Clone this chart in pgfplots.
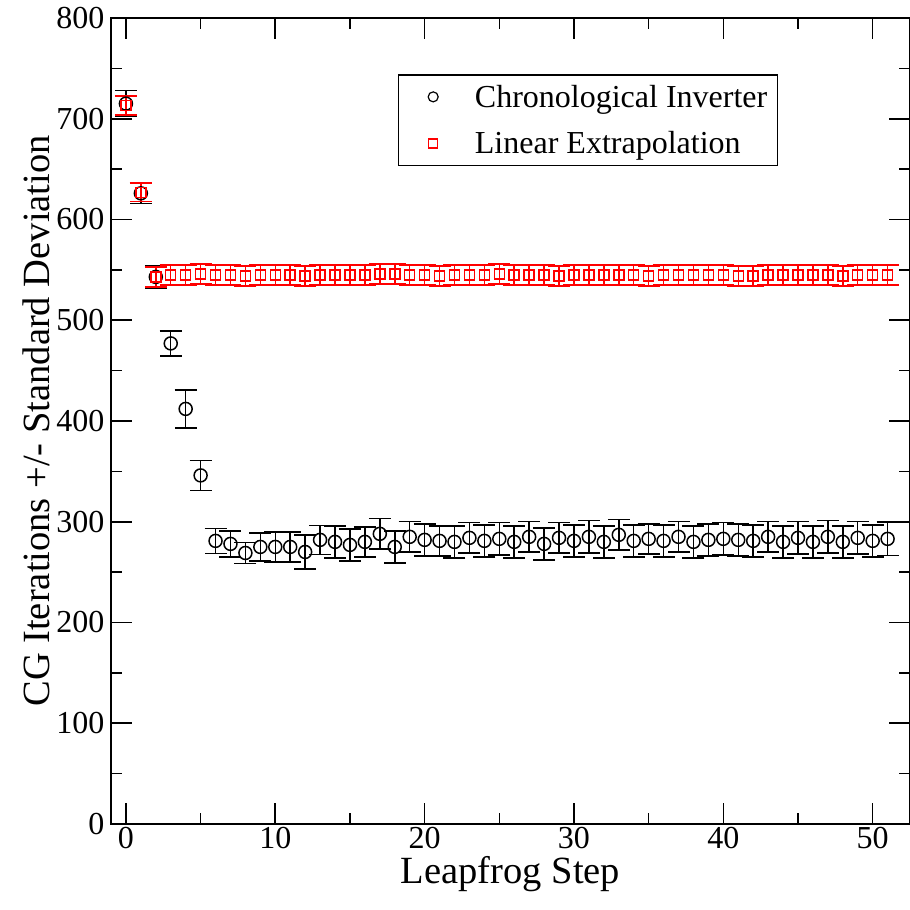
\documentclass[border=0pt]{standalone}
\usepackage{pgfplots}
\pgfplotsset{compat=1.18}
\usepackage{pgfplotstable}
\usepackage{fontspec}
\setmainfont{Liberation Serif}

% step, mean CG iterations, standard deviation
\pgfplotstableread{
x y e
0 715 13
1 626 10
2 543 11
3 477 12.5
4 412 19
5 346 15
6 281 12.5
7 278 13
8 269 10.5
9 275 14
10 275 15
11 275 15
12 270 17
13 282 14.5
14 280 16
15 277 16
16 280 15
17 288 15
18 275 16
19 285 15
20 282 16
21 281 15
22 280 16
23 284 15
24 281 16
25 283 16
26 280 16
27 285 15
28 278 16
29 284 15
30 281 16
31 285 16
32 280 16
33 287 15
34 281 16
35 283 15
36 281 16
37 285 15
38 280 16
39 282 16
40 283 16
41 282 16
42 281 16
43 285 15
44 280 16
45 284 16
46 280 16
47 285 16
48 280 16
49 284 16
50 281 16
51 283 16.5
}\chrono

\pgfplotstableread{
x y e
0 713 9.5
1 627 9
2 543 10
3 545 10
4 545 10
5 546 10
6 545 10
7 545 10
8 544 10
9 545 10
10 545 10
11 545 10
12 544 10
13 545 10
14 545 10
15 545 10
16 545 10
17 546 10
18 546 10
19 545 10
20 545 10
21 544 10
22 545 10
23 545 10
24 545 10
25 546 10
26 545 10
27 545 10
28 545 10
29 544 10
30 545 10
31 545 10
32 545 10
33 545 10
34 545 10
35 544 10
36 545 10
37 545 10
38 545 10
39 545 10
40 545 10
41 544 10
42 544 10
43 545 10
44 545 10
45 545 10
46 545 10
47 545 10
48 544 10
49 545 10
50 545 10
51 545 10
}\linex

\begin{document}
\begin{tikzpicture}
\begin{axis}[
  scale only axis,
  width=799pt, height=806pt,
  xmin=-1, xmax=52.5, ymin=0, ymax=800,
  xtick={0,10,...,50}, minor xtick={5,15,...,45},
  ytick={0,100,...,800}, minor ytick={50,150,...,750},
  tick align=inside,
  major tick length=21pt, minor tick length=11pt,
  every tick/.style={black, line width=1.6pt},
  axis line style={line width=2pt},
  tick label style={font=\fontsize{32}{38}\selectfont},
  yticklabel style={xshift=-3pt},
  /pgf/number format/assume math mode=true,
  xlabel={Leapfrog Step},
  ylabel={CG Iterations +/- Standard Deviation},
  label style={font=\fontsize{38.5}{44}\selectfont},
  legend cell align=left,
  legend style={
    at={(0.359,0.930)}, anchor=north west,
    draw=black, line width=1.2pt,
    font=\fontsize{32}{38}\selectfont,
    inner xsep=6pt, inner ysep=6pt,
    row sep=15pt,
    nodes={inner sep=4pt},
  },
  legend image code/.code={%
    \draw[#1, line width=1.2pt] plot coordinates {(22pt,0pt)};
    \path (-6pt,0pt) (59pt,0pt);
  },
]
\coordinate (sw) at (rel axis cs:0,0);
\coordinate (ne) at (rel axis cs:1,1);

\addplot[black, only marks, mark=o, mark size=6.5pt, line width=1.5pt,
  legend image post style={mark size=5pt},
  error bars/.cd, y dir=both, y explicit,
  error bar style={line width=1.5pt},
  error mark options={rotate=90, mark size=11pt, line width=1.5pt}]
  table[x=x, y=y, y error=e] {\chrono};
\addlegendentry{Chronological Inverter}

\addplot[red, only marks, mark=square, mark size=5pt, line width=1.5pt,
  legend image post style={mark size=4.5pt},
  error bars/.cd, y dir=both, y explicit,
  error bar style={line width=1.5pt},
  error mark options={rotate=90, mark size=11pt, line width=1.5pt}]
  table[x=x, y=y, y error=e] {\linex};
\addlegendentry{Linear Extrapolation}
\end{axis}
\pgfresetboundingbox
\path ([xshift=-111pt,yshift=-86pt]sw) rectangle ([yshift=18pt]ne);
\end{tikzpicture}
\end{document}
